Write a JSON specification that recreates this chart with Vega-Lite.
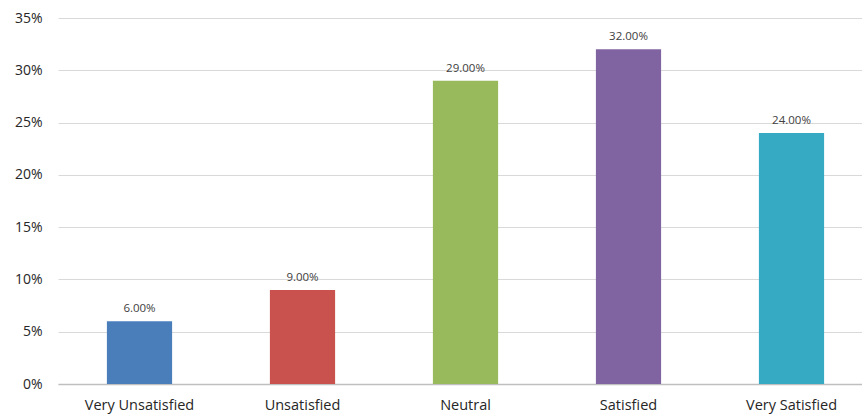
{
  "$schema": "https://vega.github.io/schema/vega-lite/v6.json",
  "autosize": {"type": "none"},
  "width": 815,
  "height": 366,
  "padding": {"left": 58, "top": 18, "right": 0, "bottom": 35},
  "background": "white",
  "config": {"view": {"stroke": null}, "font": "Open Sans"},
  "data": {"values": [
    {"category": "Very Unsatisfied", "value": 0.06},
    {"category": "Unsatisfied", "value": 0.09},
    {"category": "Neutral", "value": 0.29},
    {"category": "Satisfied", "value": 0.32},
    {"category": "Very Satisfied", "value": 0.24}
  ]},
  "encoding": {
    "x": {"field": "category", "type": "nominal", "sort": null,
      "scale": {"paddingInner": 0.6, "paddingOuter": 0.3},
      "axis": {"title": null, "labelAngle": 0, "ticks": false, "domainColor": "#BFBFBF", "domainWidth": 1.5,
        "labelFontSize": 14.5, "labelColor": "#262626", "labelPadding": 14, "labelFont": "Open Sans"}},
    "y": {"field": "value", "type": "quantitative",
      "scale": {"domain": [0, 0.35], "nice": false},
      "axis": {"title": null, "format": ".0%", "values": [0, 0.05, 0.1, 0.15, 0.2, 0.25, 0.3, 0.35],
        "domain": false, "ticks": false, "gridColor": "#D9D9D9", "labelFontSize": 14, "labelColor": "#262626",
        "labelPadding": 16, "labelFont": "Open Sans"}}
  },
  "layer": [
    {"mark": {"type": "bar"},
      "encoding": {"color": {"field": "category", "type": "nominal", "sort": null, "legend": null,
        "scale": {"domain": ["Very Unsatisfied", "Unsatisfied", "Neutral", "Satisfied", "Very Satisfied"],
          "range": ["#4A7EBB", "#C9514E", "#98B95C", "#8064A2", "#37AAC3"]}}}},
    {"mark": {"type": "text", "dy": -12, "fontSize": 11.5, "color": "#404040", "font": "Open Sans"},
      "encoding": {"text": {"field": "value", "type": "quantitative", "format": ".2%"}}}
  ]
}
